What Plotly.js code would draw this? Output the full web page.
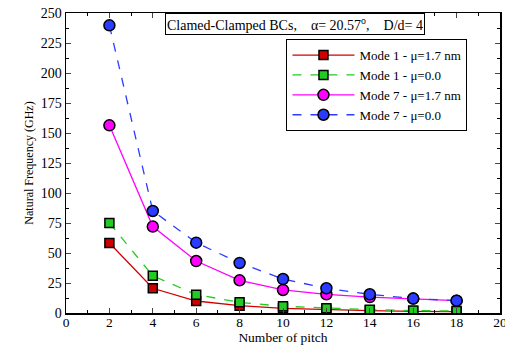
<!DOCTYPE html>
<html><head><meta charset="utf-8">
<script src="https://cdn.plot.ly/plotly-3.0.1.min.js"></script>
<style>body{margin:0;background:#fff}#c{width:505px;height:345px}</style>
</head><body><div id="c"></div>
<script>
const pitch = [2, 4, 6, 8, 10, 12, 14, 16, 18];
const mode1_mu17 = [58.3, 20.6, 10.0, 6.1, 3.9, 2.8, 2.0, 1.4, 1.1];
const mode1_mu0 = [75.0, 31.0, 15.3, 8.9, 5.6, 3.9, 2.8, 2.0, 1.7];
const mode7_mu17 = [156.4, 72.0, 43.3, 27.2, 19.2, 15.6, 13.3, 12.0, 10.3];
const mode7_mu0 = [239.7, 85.0, 58.6, 41.7, 28.3, 20.6, 15.6, 12.0, 10.3];
const names = ["Mode 1 - μ=1.7 nm", "Mode 1 - μ=0.0", "Mode 7 - μ=1.7 nm", "Mode 7 - μ=0.0"];
const yTicks = [0, 25, 50, 75, 100, 125, 150, 175, 200, 225, 250];
const xTicks = [0, 2, 4, 6, 8, 10, 12, 14, 16, 18, 20];

function tr(y, name, color, dash, symbol) {
  return {x: pitch, y: y, name: name, type: 'scatter', mode: 'lines+markers',
    line: {color: color, width: 1.3, dash: dash},
    marker: {symbol: symbol, size: symbol === 'circle' ? 11 : 9, color: color, line: {color: '#000', width: 1.5}}};
}
const data = [
  tr(mode1_mu17, names[0], '#d00000', 'solid', 'square'),
  tr(mode1_mu0, names[1], '#22cc22', 'dash', 'square'),
  tr(mode7_mu17, names[2], '#ff00ff', 'solid', 'circle'),
  tr(mode7_mu0, names[3], '#2a3cff', 'dash', 'circle')
];
const fam = 'Liberation Serif, Times New Roman, serif';
const layout = {
  width: 505, height: 345,
  margin: {l: 66, r: 5, t: 13, b: 32},
  paper_bgcolor: '#fff', plot_bgcolor: '#fff',
  font: {family: fam, color: '#000', size: 13},
  showlegend: true,
  legend: {x: 0.508, y: 0.913, xanchor: 'left', yanchor: 'top', bgcolor: '#fff',
    bordercolor: '#000', borderwidth: 1, font: {family: fam, size: 13, color: '#000'},
    tracegroupgap: 0, itemwidth: 62},
  xaxis: {range: [0, 20], tickvals: xTicks, ticktext: xTicks.map(String), ticks: 'inside', ticklen: 5,
    showline: true, linecolor: '#000', linewidth: 1.5, mirror: 'ticks', showgrid: false, zeroline: false,
    ticklabeloverflow: 'allow', ticklabelstandoff: -4,
    tickfont: {family: fam, size: 13.5, color: '#000'},
    title: {text: 'Number of pitch', font: {family: fam, size: 13.5, color: '#000'}, standoff: 0},
    minor: {dtick: 1, ticks: 'inside', ticklen: 3, tickcolor: '#000'}},
  yaxis: {range: [0, 250], tickvals: yTicks, ticktext: yTicks.map(String), ticks: 'inside', ticklen: 5,
    showline: true, linecolor: '#000', linewidth: 1.5, mirror: 'ticks', showgrid: false, zeroline: false,
    tickfont: {family: fam, size: 14, color: '#000'},
    title: {text: 'Natural Frequency (GHz)', font: {family: fam, size: 12, color: '#000'}, standoff: 4},
    minor: {dtick: 12.5, ticks: 'inside', ticklen: 3, tickcolor: '#000'}},
  annotations: [{xref: 'paper', yref: 'paper', x: 0.528, y: 0.963, xanchor: 'center', yanchor: 'middle',
    text: 'Clamed-Clamped BCs,    α= 20.57<sup>o</sup>,    D/d= 4', showarrow: false,
    font: {family: fam, size: 14, color: '#000'}, bgcolor: '#fff', bordercolor: '#000',
    borderwidth: 1, borderpad: 1}]
};
Plotly.newPlot('c', data, layout, {displayModeBar: false, staticPlot: true});
</script></body></html>
